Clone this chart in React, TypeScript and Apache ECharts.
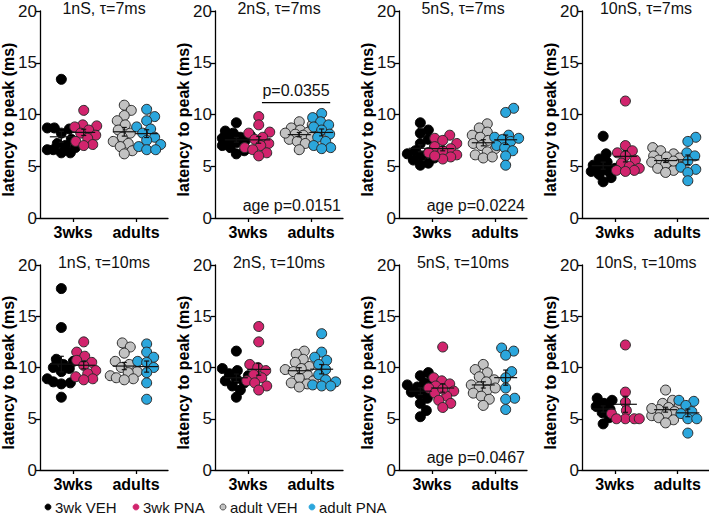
import React, { useEffect, useRef } from "react";
import * as echarts from "echarts";

// ---- data: latency to peak (ms), one list per group: [3wk VEH, 3wk PNA, adult VEH, adult PNA]
const groupNames = ["3wk VEH", "3wk PNA", "adult VEH", "adult PNA"];
const groupColors = ["#000000", "#d1246d", "#c2c2c2", "#2ba6dc"];
const groupX = [1.0, 2.05, 3.95, 5.0];
const ageTickValues = [1.55, 4.5];
const ageTickLabels = ["3wks", "adults"];

const panelTitles = [
  "1nS, τ=7ms", "2nS, τ=7ms", "5nS, τ=7ms", "10nS, τ=7ms",
  "1nS, τ=10ms", "2nS, τ=10ms", "5nS, τ=10ms", "10nS, τ=10ms",
];

const lat1nS7 = [
  [13.4, 8.7, 8.7, 8.6, 8.2, 7.6, 7.2, 7.0, 6.8, 6.6, 6.3, 6.3, 6.6],
  [10.4, 9.0, 8.9, 8.8, 8.5, 8.2, 8.0, 7.7, 7.4, 7.1, 7.0],
  [10.9, 10.4, 9.9, 9.4, 9.0, 8.5, 8.2, 7.8, 7.4, 7.2, 6.9, 6.5, 6.2],
  [10.5, 9.8, 9.4, 8.8, 8.6, 8.2, 7.8, 7.5, 7.1, 6.9, 6.6, 6.6],
];
const lat2nS7 = [
  [9.2, 8.4, 8.2, 8.0, 7.8, 7.6, 7.5, 7.3, 7.0, 6.8, 6.5, 6.2, 7.7],
  [9.8, 9.0, 8.3, 8.2, 7.8, 7.6, 7.2, 7.0, 6.8, 6.6, 6.3, 6.0],
  [9.3, 9.0, 8.7, 8.5, 8.3, 8.1, 8.0, 7.8, 7.6, 7.4, 7.2, 6.6, 8.2],
  [10.1, 9.7, 9.3, 9.0, 8.8, 8.5, 8.1, 7.8, 7.4, 7.0, 6.8, 6.7],
];
const lat5nS7 = [
  [9.2, 8.5, 8.2, 7.6, 7.2, 6.8, 6.5, 6.2, 6.0, 5.8, 5.6, 5.3, 5.1, 6.3],
  [8.0, 7.7, 7.5, 7.2, 6.9, 6.7, 6.5, 6.3, 6.1, 5.9, 5.7, 6.0],
  [9.1, 8.7, 8.3, 8.0, 7.8, 7.5, 7.2, 7.0, 6.7, 6.4, 6.1, 5.8, 5.9],
  [10.6, 10.2, 8.0, 7.8, 7.6, 7.4, 7.0, 6.8, 6.5, 6.0, 5.1, 7.7],
];
const lat10nS7 = [
  [7.9, 6.2, 5.7, 5.4, 5.1, 4.9, 4.6, 4.5, 4.2, 3.9, 3.5, 4.8],
  [11.3, 7.0, 6.5, 6.3, 6.0, 5.6, 5.3, 5.0, 4.8, 4.6, 4.6, 4.5],
  [6.8, 6.5, 6.2, 6.0, 5.8, 5.6, 5.4, 5.2, 5.0, 4.8, 4.6, 4.4, 5.9, 5.5],
  [7.8, 7.4, 6.3, 6.0, 5.5, 4.9, 4.7, 4.4, 3.6],
];
const lat1nS10 = [
  [17.7, 13.9, 10.8, 10.6, 10.3, 9.9, 9.6, 8.9, 8.6, 8.5, 8.4, 7.1, 10.0],
  [12.5, 11.5, 11.1, 10.7, 10.5, 10.2, 9.7, 9.4, 9.1, 8.9, 8.8],
  [12.4, 12.0, 11.4, 10.6, 10.3, 10.0, 9.6, 9.5, 9.2, 9.0, 8.9, 8.8],
  [12.3, 11.5, 11.0, 10.6, 10.5, 10.0, 9.5, 8.5, 6.9],
];
const lat2nS10 = [
  [11.6, 9.9, 9.7, 9.4, 9.2, 8.9, 8.7, 8.5, 8.2, 7.8, 7.1],
  [14.0, 12.5, 10.3, 10.0, 9.7, 9.3, 9.0, 8.7, 8.5, 8.2, 7.8],
  [11.6, 11.3, 10.8, 10.5, 10.1, 9.8, 9.6, 9.3, 9.0, 8.7, 8.5, 8.4, 8.1, 9.9],
  [13.3, 11.5, 11.0, 10.7, 10.3, 9.8, 9.3, 8.8, 8.6, 8.3, 8.2, 8.2],
];
const lat5nS10 = [
  [9.5, 9.2, 8.8, 8.5, 8.3, 8.0, 7.8, 7.6, 7.4, 7.0, 6.5, 5.8, 5.2, 8.1],
  [12.0, 9.0, 8.7, 8.4, 8.2, 8.0, 7.7, 7.5, 7.2, 6.8, 6.5, 6.1, 7.9],
  [10.3, 9.8, 9.5, 9.1, 8.8, 8.6, 8.3, 8.1, 7.8, 7.5, 7.2, 6.9, 6.3, 8.0],
  [11.9, 11.6, 11.2, 9.6, 9.0, 8.0, 7.0, 6.9, 5.9],
];
const lat10nS10 = [
  [7.0, 6.8, 6.5, 6.2, 5.9, 5.6, 5.1, 4.5],
  [12.2, 7.6, 6.6, 5.8, 5.5, 5.0, 5.0, 5.0, 5.0],
  [7.8, 6.8, 6.5, 6.3, 6.1, 5.9, 5.7, 5.5, 5.3, 5.1, 4.9, 4.6, 6.0],
  [6.8, 6.7, 6.3, 5.7, 5.5, 5.0, 5.0, 3.6],
];

const panelData = [
  lat1nS7, lat2nS7, lat5nS7, lat10nS7,
  lat1nS10, lat2nS10, lat5nS10, lat10nS10,
];

// statistics annotations
const agePanels = [1, 2, 6];
const ageTexts = ["age p=0.0151", "age p=0.0224", "age p=0.0467"];
const pairPanel = 1;
const pairText = "p=0.0355";
const pairFrom = 2.2;
const pairTo = 5.4;
const pairY = 11.15;

// ---- layout
const W = 709;
const H = 514;
const gridLefts = [40, 215, 399, 582];
const gridWidth = 128;
const rowTops = [11, 265];
const rowHeights = [207, 205];
const X_MAX = 6;
const Y_MAX = 20;
const FONT = "'Liberation Sans', Arial, Helvetica, sans-serif";

function gridRect(i: number) {
  const row = Math.floor(i / 4);
  const col = i % 4;
  return { left: gridLefts[col], top: rowTops[row], width: gridWidth, height: rowHeights[row] };
}

// deterministic beeswarm: spread overlapping points sideways, kept within a narrow band
function swarm(values: number[], center: number, pxX: number, pxY: number): number[][] {
  const minDist = 8.2;
  const step = 1;
  const maxOff = 14;
  const order = values.map((_, i) => i).sort((a, b) => values[a] - values[b]);
  const placed: { x: number; y: number }[] = [];
  const out: number[][] = new Array(values.length);
  for (const i of order) {
    const y = values[i] * pxY;
    let best = 0;
    let bestGap = -1;
    for (let k = 0; k <= 2 * maxOff; k++) {
      const cand = k === 0 ? 0 : (k % 2 === 1 ? 1 : -1) * Math.ceil(k / 2) * step;
      const gap = placed.reduce((mn, p) => Math.min(mn, Math.hypot(p.x - cand, p.y - y)), Infinity);
      if (gap >= minDist) {
        best = cand;
        bestGap = gap;
        break;
      }
      if (gap > bestGap) {
        bestGap = gap;
        best = cand;
      }
    }
    placed.push({ x: best, y });
    out[i] = [center + best / pxX, values[i]];
  }
  return out;
}

function meanSem(v: number[]) {
  const n = v.length;
  const m = v.reduce((a, b) => a + b, 0) / n;
  const sd = Math.sqrt(v.reduce((a, b) => a + (b - m) * (b - m), 0) / (n - 1));
  return [m, sd / Math.sqrt(n)];
}

function buildOption() {
  const grids: any[] = [];
  const xAxes: any[] = [];
  const yAxes: any[] = [];
  const series: any[] = [];
  const graphics: any[] = [];

  panelData.forEach((groups, p) => {
    const r = gridRect(p);
    grids.push({ ...r, containLabel: false });
    xAxes.push({
      type: "value",
      gridIndex: p,
      min: 0,
      max: X_MAX,
      splitLine: { show: false },
      axisLine: { show: true, lineStyle: { color: "#000", width: 1.3 } },
      axisTick: {
        show: true,
        customValues: ageTickValues,
        length: 4,
        lineStyle: { color: "#000", width: 1.3 },
      },
      axisLabel: {
        customValues: ageTickValues,
        formatter: (v: number) => {
          const idx = ageTickValues.findIndex((t) => Math.abs(t - v) < 1e-6);
          return idx >= 0 ? ageTickLabels[idx] : "";
        },
        fontFamily: FONT,
        fontWeight: "bold",
        fontSize: 16,
        color: "#000",
        margin: 6,
      },
    });
    yAxes.push({
      type: "value",
      gridIndex: p,
      min: 0,
      max: Y_MAX,
      interval: 5,
      splitLine: { show: false },
      axisLine: { show: true, lineStyle: { color: "#000", width: 1.3 } },
      axisTick: { show: true, length: 4, lineStyle: { color: "#000", width: 1.3 } },
      axisLabel: { fontFamily: FONT, fontSize: 17, color: "#111", margin: 3 },
    });

    const pxX = r.width / X_MAX;
    const pxY = r.height / Y_MAX;

    groups.forEach((vals, g) => {
      series.push({
        type: "scatter",
        name: groupNames[g],
        xAxisIndex: p,
        yAxisIndex: p,
        symbol: "circle",
        symbolSize: 10,
        itemStyle: {
          color: groupColors[g],
          borderColor: g === 0 ? "#000" : "#2a2a2a",
          borderWidth: 1,
          opacity: 1,
        },
        z: 2,
        data: swarm(vals, groupX[g], pxX, pxY),
      });
    });

    // mean ± SEM
    series.push({
      type: "custom",
      xAxisIndex: p,
      yAxisIndex: p,
      z: 5,
      silent: true,
      data: groups.map((vals, g) => {
        const [m, s] = meanSem(vals);
        return [groupX[g], m, s];
      }),
      renderItem: (_params: any, api: any) => {
        const x = api.value(0);
        const m = api.value(1);
        const s = api.value(2);
        const c = api.coord([x, m]);
        const t = api.coord([x, m + s]);
        const b = api.coord([x, m - s]);
        const st = { stroke: "#111", lineWidth: 1.2 };
        const hw = 11.5;
        const cw = 2.5;
        return {
          type: "group",
          children: [
            { type: "line", shape: { x1: c[0] - hw, y1: c[1], x2: c[0] + hw, y2: c[1] }, style: st },
            { type: "line", shape: { x1: c[0], y1: t[1], x2: c[0], y2: b[1] }, style: st },
            { type: "line", shape: { x1: c[0] - cw, y1: t[1], x2: c[0] + cw, y2: t[1] }, style: st },
            { type: "line", shape: { x1: c[0] - cw, y1: b[1], x2: c[0] + cw, y2: b[1] }, style: st },
          ],
        };
      },
    });

    // panel title
    graphics.push({
      type: "text",
      x: r.left + r.width / 2,
      y: r.top - 3,
      style: {
        text: panelTitles[p],
        fontFamily: FONT,
        fontSize: 16,
        fill: "#111",
        align: "center",
        verticalAlign: "middle",
      },
    });
    // y-axis name
    graphics.push({
      type: "text",
      x: r.left - 32,
      y: r.top + r.height / 2 + 5,
      rotation: Math.PI / 2,
      style: {
        text: "latency to peak (ms)",
        fontFamily: FONT,
        fontSize: 16,
        fontWeight: "bold",
        fill: "#000",
        align: "center",
        verticalAlign: "middle",
      },
    });
  });

  // age effect p-values
  agePanels.forEach((p, k) => {
    series.push({
      type: "custom",
      xAxisIndex: p,
      yAxisIndex: p,
      z: 6,
      silent: true,
      data: [[X_MAX, 1.2]],
      renderItem: (_params: any, api: any) => {
        const pt = api.coord([api.value(0), api.value(1)]);
        return {
          type: "text",
          x: pt[0] - 2,
          y: pt[1],
          style: {
            text: ageTexts[k],
            fontFamily: FONT,
            fontSize: 16,
            fill: "#111",
            align: "right",
            verticalAlign: "middle",
          },
        };
      },
    });
  });

  // pairwise comparison bar
  series.push({
    type: "line",
    xAxisIndex: pairPanel,
    yAxisIndex: pairPanel,
    symbol: "none",
    silent: true,
    lineStyle: { color: "#000", width: 1.3 },
    data: [
      [pairFrom, pairY],
      [pairTo, pairY],
    ],
  });
  series.push({
    type: "custom",
    xAxisIndex: pairPanel,
    yAxisIndex: pairPanel,
    silent: true,
    data: [[(pairFrom + pairTo) / 2, pairY]],
    renderItem: (_params: any, api: any) => {
      const pt = api.coord([api.value(0), api.value(1)]);
      return {
        type: "text",
        x: pt[0],
        y: pt[1] - 4,
        style: {
          text: pairText,
          fontFamily: FONT,
          fontSize: 16,
          fill: "#111",
          align: "center",
          verticalAlign: "bottom",
        },
      };
    },
  });

  // legend row
  const legendX = [48, 136, 223, 312];
  groupNames.forEach((name, g) => {
    graphics.push({
      type: "circle",
      shape: { cx: legendX[g], cy: 507, r: 3 },
      style: { fill: groupColors[g], stroke: g === 2 ? "#333" : groupColors[g], lineWidth: 0.8 },
    });
    graphics.push({
      type: "text",
      x: legendX[g] + 7,
      y: 507,
      style: {
        text: name,
        fontFamily: FONT,
        fontSize: 15,
        fill: "#111",
        align: "left",
        verticalAlign: "middle",
      },
    });
  });

  return {
    animation: false,
    backgroundColor: "#ffffff",
    grid: grids,
    xAxis: xAxes,
    yAxis: yAxes,
    series,
    graphic: graphics,
  };
}

export default function App() {
  const ref = useRef<HTMLDivElement>(null);
  useEffect(() => {
    if (!ref.current) return;
    const chart = echarts.init(ref.current, null, { renderer: "svg", width: W, height: H });
    chart.setOption(buildOption());
    return () => chart.dispose();
  }, []);
  return (
    <div
      ref={ref}
      style={{ position: "fixed", left: 0, top: 0, width: W, height: H, background: "#fff" }}
    />
  );
}
